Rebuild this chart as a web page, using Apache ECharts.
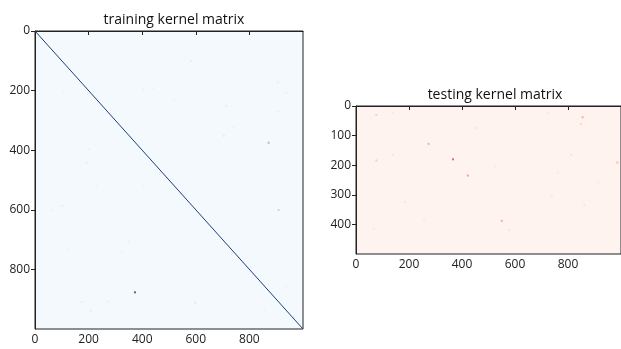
<!DOCTYPE html>
<html>
<head>
<meta charset="utf-8">
<script src="https://cdn.jsdelivr.net/npm/echarts@6/dist/echarts.min.js"></script>
<style>
  html, body { margin: 0; padding: 0; background: #fff; }
  #chart { width: 621px; height: 349px; }
</style>
</head>
<body>
<div id="chart"></div>
<script>
// tick labels
const trainTicksX = [0, 200, 400, 600, 800];
const trainTicksY = [0, 200, 400, 600, 800];
const testTicksX = [0, 200, 400, 600, 800];
const testTicksY = [0, 100, 200, 300, 400];

// matrix sizes (rows, cols)
const trainSize = [1000, 1000];
const testSize = [500, 1000];

// diagonal of the training kernel: k(x, x) = 1, from first to last sample
const trainDiag = [[0, 0, 1], [999, 999, 1]];

// off-diagonal entries that stand out from ~0 : [col, row, value]
const trainSpots = [
  [872, 375, 0.45], [373, 877, 0.9], [909, 601, 0.3],
  [907, 173, 0.12], [907, 271, 0.12], [937, 208, 0.1], [705, 352, 0.15],
  [583, 101, 0.12], [714, 252, 0.1], [519, 229, 0.08], [739, 324, 0.08],
  [404, 196, 0.08], [441, 192, 0.08], [199, 397, 0.1], [193, 442, 0.1],
  [106, 201, 0.08], [174, 910, 0.12], [271, 908, 0.12], [209, 939, 0.1],
  [352, 707, 0.1], [323, 741, 0.08], [230, 520, 0.08], [102, 587, 0.1],
  [60, 601, 0.08], [404, 520, 0.08], [124, 735, 0.08], [598, 912, 0.15],
  [938, 858, 0.08], [966, 964, 0.1], [857, 936, 0.08]
];

const testSpots = [
  [366, 180, 0.6], [422, 235, 0.4], [274, 128, 0.35], [77, 30, 0.2],
  [77, 184, 0.2], [139, 165, 0.1], [453, 75, 0.1], [186, 325, 0.08],
  [257, 382, 0.08], [67, 415, 0.08], [139, 22, 0.08], [855, 38, 0.35],
  [849, 61, 0.15], [550, 388, 0.35], [986, 191, 0.3], [726, 25, 0.1],
  [811, 165, 0.1], [861, 335, 0.1], [527, 203, 0.08], [761, 225, 0.08],
  [579, 419, 0.1], [739, 306, 0.08], [913, 257, 0.06]
];

const chart = echarts.init(document.getElementById('chart'), null, { renderer: 'canvas' });

const font = 'Open Sans';
const tickLabel = { color: '#222', fontSize: 12, fontFamily: font };
const axisLine = { show: true, lineStyle: { color: '#222', width: 1 } };
const axisTick = { show: true, length: 4, inside: false, lineStyle: { color: '#222' } };

function valAxis(gridIndex, max, ticks, extra) {
  return Object.assign({
    type: 'value', gridIndex: gridIndex, min: 0, max: max,
    axisLine: axisLine,
    axisTick: Object.assign({ customValues: ticks }, axisTick),
    axisLabel: Object.assign({ customValues: ticks, margin: 5 }, tickLabel),
    splitLine: { show: false }
  }, extra);
}

const option = {
  backgroundColor: '#ffffff',
  animation: false,
  title: [
    { text: 'training kernel matrix', left: 169, top: 8, textAlign: 'center',
      textStyle: { fontSize: 14, fontWeight: 'normal', color: '#111', fontFamily: font } },
    { text: 'testing kernel matrix', left: 490, top: 83, textAlign: 'center',
      textStyle: { fontSize: 14, fontWeight: 'normal', color: '#111', fontFamily: font } }
  ],
  grid: [
    { left: 35, top: 31, width: 268, height: 298, show: true,
      backgroundColor: '#f4f9fe', borderColor: '#222', borderWidth: 1 },
    { left: 356, top: 106, width: 268, height: 148, show: true,
      backgroundColor: '#fff3ef', borderColor: '#222', borderWidth: 1 }
  ],
  xAxis: [
    valAxis(0, trainSize[1], trainTicksX, { position: 'bottom' }),
    valAxis(1, testSize[1], testTicksX, { position: 'bottom' })
  ],
  yAxis: [
    valAxis(0, trainSize[0], trainTicksY, { inverse: true }),
    valAxis(1, testSize[0], testTicksY, { inverse: true })
  ],
  visualMap: [
    { show: false, seriesIndex: [0, 1], dimension: 2, min: 0, max: 1,
      inRange: { color: ['#f7fbff', '#c6dbef', '#6baed6', '#2171b5', '#08306b'] } },
    { show: false, seriesIndex: 2, dimension: 2, min: 0, max: 1,
      inRange: { color: ['#fff5f0', '#fcbba1', '#fb6a4a', '#e8102a', '#a50f15'] } }
  ],
  series: [
    { type: 'line', xAxisIndex: 0, yAxisIndex: 0, data: trainDiag,
      showSymbol: false, lineStyle: { width: 1, color: '#1c3f78' }, silent: true },
    { type: 'scatter', xAxisIndex: 0, yAxisIndex: 0, data: trainSpots,
      symbol: 'rect', symbolSize: 2, silent: true },
    { type: 'scatter', xAxisIndex: 1, yAxisIndex: 1, data: testSpots,
      symbol: 'rect', symbolSize: 2, silent: true }
  ]
};

chart.setOption(option);
</script>
</body>
</html>
